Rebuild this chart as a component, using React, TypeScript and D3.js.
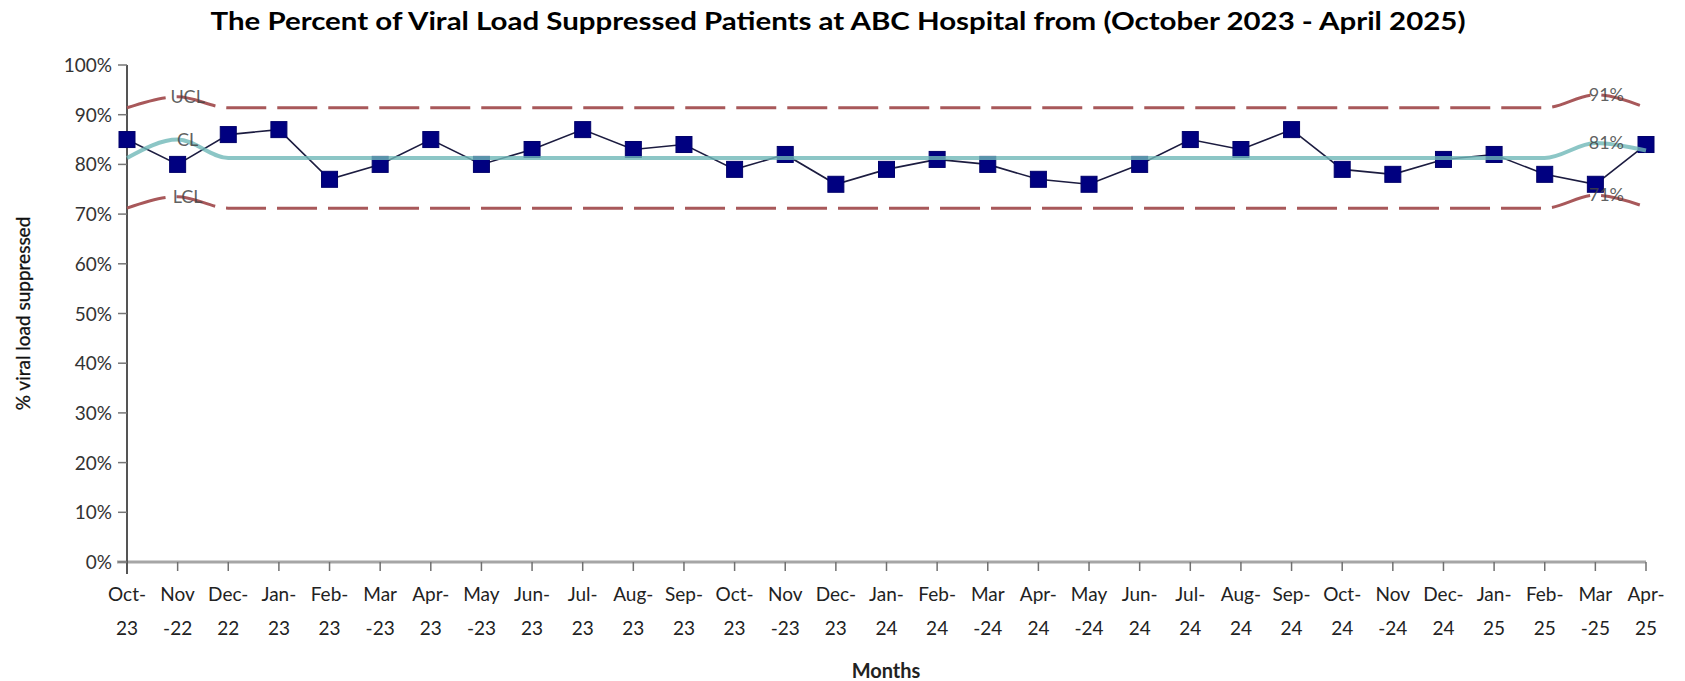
import React, { useEffect, useRef } from "react";
import * as d3 from "d3";

// month labels, wrapped the way the original axis shows them
const months = [
  "Oct-\n23", "Nov\n-22", "Dec-\n22", "Jan-\n23", "Feb-\n23", "Mar\n-23", "Apr-\n23",
  "May\n-23", "Jun-\n23", "Jul-\n23", "Aug-\n23", "Sep-\n23", "Oct-\n23", "Nov\n-23",
  "Dec-\n23", "Jan-\n24", "Feb-\n24", "Mar\n-24", "Apr-\n24", "May\n-24", "Jun-\n24",
  "Jul-\n24", "Aug-\n24", "Sep-\n24", "Oct-\n24", "Nov\n-24", "Dec-\n24", "Jan-\n25",
  "Feb-\n25", "Mar\n-25", "Apr-\n25"
];

// % suppressed per month
const suppressed = [
  85, 80, 86, 87, 77, 80, 85, 80, 83, 87, 83, 84, 79, 82, 76, 79,
  81, 80, 77, 76, 80, 85, 83, 87, 79, 78, 81, 82, 78, 76, 84
];

// control lines (Excel label points bump the smoothed line at both ends)
const ucl = [
  91.4, 93.6, 91.4, 91.4, 91.4, 91.4, 91.4, 91.4, 91.4, 91.4, 91.4, 91.4, 91.4, 91.4, 91.4, 91.4,
  91.4, 91.4, 91.4, 91.4, 91.4, 91.4, 91.4, 91.4, 91.4, 91.4, 91.4, 91.4, 91.4, 94.0, 91.4
];
const cl = [
  81.3, 85.0, 81.3, 81.3, 81.3, 81.3, 81.3, 81.3, 81.3, 81.3, 81.3, 81.3, 81.3, 81.3, 81.3, 81.3,
  81.3, 81.3, 81.3, 81.3, 81.3, 81.3, 81.3, 81.3, 81.3, 81.3, 81.3, 81.3, 81.3, 84.3, 82.8
];
const lcl = [
  71.2, 73.5, 71.2, 71.2, 71.2, 71.2, 71.2, 71.2, 71.2, 71.2, 71.2, 71.2, 71.2, 71.2, 71.2, 71.2,
  71.2, 71.2, 71.2, 71.2, 71.2, 71.2, 71.2, 71.2, 71.2, 71.2, 71.2, 71.2, 71.2, 73.8, 71.4
];

const leftLabels = ["UCL", "CL", "LCL"];
const rightLabels = ["91%", "81%", "71%"];
const yTicks = [0, 10, 20, 30, 40, 50, 60, 70, 80, 90, 100];

const W = 1685, H = 681;
const FONT = "Lato, 'Open Sans', sans-serif";

export default function App() {
  const ref = useRef<SVGSVGElement | null>(null);

  useEffect(() => {
    drawChart();
  }, []);

  function drawChart() {
    const svg = d3.select(ref.current);
    svg.selectAll("*").remove();

    const x = d3.scaleLinear().domain([0, months.length - 1]).range([127, 1646]);
    const y = d3.scaleLinear().domain([0, 100]).range([562, 65]);

    // title
    svg.append("text")
      .attr("x", 838).attr("y", 30)
      .attr("text-anchor", "middle")
      .attr("font-family", FONT).attr("font-weight", "bold").attr("font-size", 25)
      .attr("textLength", 1255).attr("lengthAdjust", "spacingAndGlyphs")
      .attr("fill", "#000")
      .text("The Percent of Viral Load Suppressed Patients at ABC Hospital from (October 2023 - April 2025)");

    // x axis
    svg.append("line")
      .attr("x1", 117).attr("x2", 1646)
      .attr("y1", y(0)).attr("y2", y(0))
      .attr("stroke", "#a6a6a6").attr("stroke-width", 3);

    const xt = svg.append("g");
    months.forEach((m, i) => {
      xt.append("line")
        .attr("x1", x(i)).attr("x2", x(i))
        .attr("y1", y(0)).attr("y2", y(0) + 9)
        .attr("stroke", "#707070").attr("stroke-width", 1.5);
      const parts = m.split("\n");
      const t = xt.append("text")
        .attr("text-anchor", "middle")
        .attr("font-family", FONT).attr("font-size", 19)
        .attr("fill", "#222");
      t.append("tspan").attr("x", x(i)).attr("y", 601).text(parts[0]);
      t.append("tspan").attr("x", x(i)).attr("y", 635).text(parts[1]);
    });

    svg.append("text")
      .attr("x", 886).attr("y", 678)
      .attr("text-anchor", "middle")
      .attr("font-family", FONT).attr("font-weight", "bold").attr("font-size", 20)
      .attr("fill", "#222")
      .text("Months");

    // y axis
    svg.append("line")
      .attr("x1", 127).attr("x2", 127)
      .attr("y1", y(100)).attr("y2", 574)
      .attr("stroke", "#555").attr("stroke-width", 2);

    yTicks.forEach(v => {
      svg.append("line")
        .attr("x1", 118).attr("x2", 127)
        .attr("y1", y(v)).attr("y2", y(v))
        .attr("stroke", "#777").attr("stroke-width", 1.5);
      svg.append("text")
        .attr("x", 112).attr("y", y(v) + 7)
        .attr("text-anchor", "end")
        .attr("font-family", FONT).attr("font-size", 19)
        .attr("fill", "#333")
        .text(v + "%");
    });

    svg.append("text")
      .attr("transform", "translate(30," + (y(50)) + ") rotate(-90)")
      .attr("text-anchor", "middle")
      .attr("font-family", FONT).attr("font-size", 19)
      .attr("fill", "#111")
      .attr("stroke", "#111").attr("stroke-width", 0.3)
      .text("% viral load suppressed");

    // control limit lines
    const smooth = d3.line<number>()
      .x((d, i) => x(i))
      .y(d => y(d))
      .curve(d3.curveMonotoneX);

    [ucl, lcl].forEach(s => {
      svg.append("path")
        .attr("d", smooth(s))
        .attr("fill", "none")
        .attr("stroke", "#a8585a").attr("stroke-width", 3)
        .attr("stroke-dasharray", "40,11");
    });

    // data series
    const line = d3.line<number>()
      .x((d, i) => x(i))
      .y(d => y(d));

    svg.append("path")
      .attr("d", line(suppressed))
      .attr("fill", "none")
      .attr("stroke", "#1c1c40").attr("stroke-width", 1.6);

    svg.selectAll(".pt")
      .data(suppressed)
      .enter()
      .append("rect")
      .attr("class", "pt")
      .attr("x", (d, i) => x(i) - 8)
      .attr("y", d => y(d) - 8)
      .attr("width", 16).attr("height", 16)
      .attr("fill", "#000080")
      .attr("stroke", "#00006a").attr("stroke-width", 1);

    // centre line sits on top, a bit see-through
    svg.append("path")
      .attr("d", smooth(cl))
      .attr("fill", "none")
      .attr("stroke", "#6fb8b8").attr("stroke-width", 4)
      .attr("stroke-opacity", 0.8);

    // labels at the bumps
    [ucl, cl, lcl].forEach((s, k) => {
      svg.append("text")
        .attr("x", x(1) + 10).attr("y", y(s[1]) + 6)
        .attr("text-anchor", "middle")
        .attr("font-family", FONT).attr("font-size", 18)
        .attr("fill", "#444").attr("fill-opacity", 0.85)
        .text(leftLabels[k]);
      svg.append("text")
        .attr("x", x(29) + 11).attr("y", y(s[29]) + 6)
        .attr("text-anchor", "middle")
        .attr("font-family", FONT).attr("font-size", 18)
        .attr("fill", "#444").attr("fill-opacity", 0.85)
        .text(rightLabels[k]);
    });
  }

  return (
    <svg
      ref={ref}
      width={W}
      height={H}
      style={{ position: "absolute", left: 0, top: 0, background: "#fff" }}
    />
  );
}
